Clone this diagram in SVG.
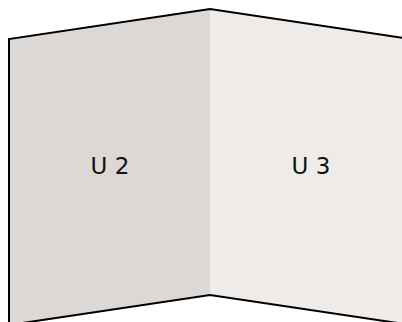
<svg xmlns="http://www.w3.org/2000/svg" width="402" height="322" viewBox="0 0 402 322">
<style>
.lbl{font-family:"DejaVu Sans","Liberation Sans",sans-serif;font-size:23px;fill:#111;text-anchor:middle}
.edge{fill:none;stroke:#000;stroke-width:2;stroke-linejoin:miter}
</style>
<rect width="402" height="322" fill="#fff"/>
<g id="panel-u2">
<polygon points="9,39 210,9 210,295 9,325" fill="#dcd8d5"/>
<text class="lbl" x="110" y="174">U 2</text>
</g>
<g id="panel-u3">
<polygon points="210,9 411,39 411,325 210,295" fill="#efebe8"/>
<text class="lbl" x="311" y="174">U 3</text>
</g>
<g id="outline">
<polyline class="edge" points="411,39 210,9 9,39 9,325 210,295 411,325"/>
</g>
</svg>
